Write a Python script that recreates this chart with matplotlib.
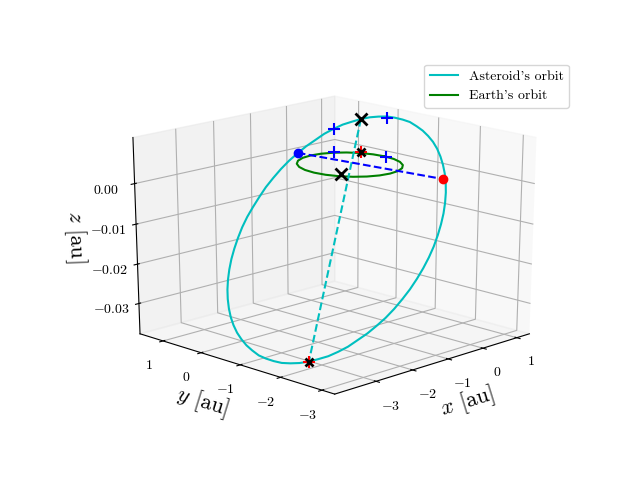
import matplotlib
matplotlib.use('Agg')
import matplotlib.pyplot as plt

plt.rcParams['font.family'] = ['cmr10', 'DejaVu Sans']
plt.rcParams['mathtext.fontset'] = 'cm'
plt.rcParams['axes.unicode_minus'] = False

# orbits, au
asteroid_x = [0.880, 0.782, 0.668, 0.538, 0.396, 0.240, 0.072, -0.106, -0.293, -0.488, -0.689, -0.896,
              -1.105, -1.315, -1.526, -1.735, -1.940, -2.140, -2.335, -2.522, -2.698, -2.865, -3.020, -3.161,
              -3.290, -3.402, -3.499, -3.578, -3.641, -3.686, -3.712, -3.720, -3.710, -3.682, -3.636, -3.572,
              -3.490, -3.392, -3.278, -3.148, -3.006, -2.850, -2.682, -2.504, -2.317, -2.122, -1.921, -1.714,
              -1.506, -1.295, -1.084, -0.875, -0.670, -0.470, -0.275, -0.088, 0.088, 0.255, 0.410, 0.551,
              0.679, 0.792, 0.889, 0.968, 1.031, 1.076, 1.102, 1.110, 1.100, 1.072, 1.026, 0.962, 0.880]
asteroid_y = [0.500, 0.644, 0.777, 0.898, 1.006, 1.100, 1.179, 1.243, 1.291, 1.324, 1.340, 1.340,
              1.323, 1.291, 1.242, 1.177, 1.097, 1.003, 0.895, 0.773, 0.641, 0.497, 0.342, 0.179,
              0.008, -0.168, -0.350, -0.536, -0.723, -0.911, -1.099, -1.284, -1.466, -1.642, -1.813, -1.976,
              -2.130, -2.274, -2.407, -2.528, -2.636, -2.730, -2.809, -2.873, -2.921, -2.954, -2.970, -2.970,
              -2.954, -2.921, -2.872, -2.807, -2.727, -2.633, -2.525, -2.403, -2.271, -2.127, -1.972, -1.809,
              -1.639, -1.462, -1.280, -1.094, -0.907, -0.719, -0.531, -0.346, -0.164, 0.012, 0.183, 0.346, 0.500]
asteroid_z = [0.0086, 0.0078, 0.0070, 0.0059, 0.0047, 0.0032, 0.0018, 0.0002, -0.0014, -0.0032, -0.0051, -0.0070,
              -0.0091, -0.0111, -0.0130, -0.0150, -0.0171, -0.0191, -0.0210, -0.0229, -0.0247, -0.0264, -0.0280, -0.0296,
              -0.0310, -0.0322, -0.0333, -0.0342, -0.0350, -0.0356, -0.0362, -0.0364, -0.0365, -0.0365, -0.0362, -0.0358,
              -0.0352, -0.0344, -0.0336, -0.0325, -0.0313, -0.0298, -0.0284, -0.0268, -0.0252, -0.0234, -0.0215, -0.0196,
              -0.0176, -0.0156, -0.0136, -0.0116, -0.0095, -0.0075, -0.0056, -0.0037, -0.0019, -0.0002, 0.0014, 0.0029,
              0.0043, 0.0056, 0.0067, 0.0076, 0.0084, 0.0090, 0.0096, 0.0098, 0.0099, 0.0099, 0.0096, 0.0092, 0.0086]

earth_x = [1, 0.966, 0.866, 0.707, 0.5, 0.259, 0, -0.259, -0.5, -0.707, -0.866, -0.966, -1,
           -0.966, -0.866, -0.707, -0.5, -0.259, 0, 0.259, 0.5, 0.707, 0.866, 0.966, 1]
earth_y = [0, 0.259, 0.5, 0.707, 0.866, 0.966, 1, 0.966, 0.866, 0.707, 0.5, 0.259, 0,
           -0.259, -0.5, -0.707, -0.866, -0.966, -1, -0.966, -0.866, -0.707, -0.5, -0.259, 0]
earth_z = [0] * 25

# apsides line (perihelion, aphelion)
apsides_x = [0.88, -3.49]
apsides_y = [0.50, -2.13]
apsides_z = [0.0086, -0.0352]

# nodes line (blue end, red end)
nodes_x = [-0.02, 0.40]
nodes_y = [1.315, -1.94]
nodes_z = [0, 0]

# points on the asteroid orbit and the same x, y on the ecliptic
plus_x = [0.54, 0.99, 0.54, 0.99]
plus_y = [0.89, -0.05, 0.89, -0.05]
plus_z = [0.0058, 0.0098, 0, 0]

# big black crosses: perihelion, earth opposite perihelion
cross_x = [0.88, -0.724]
cross_y = [0.50, -0.427]
cross_z = [0.0086, 0]

# smaller black crosses on red plus: perihelion on ecliptic, aphelion
mark_x = [0.93, -3.49]
mark_y = [0.55, -2.13]
mark_z = [0, -0.0352]

ticks_xy = [-3, -2, -1, 0, 1]
ticks_xy_labels = ['$-3$', '$-2$', '$-1$', '$0$', '$1$']
ticks_z = [-0.03, -0.02, -0.01, 0]
ticks_z_labels = ['$-0.03$', '$-0.02$', '$-0.01$', '$0.00$']

fig = plt.figure()
ax = fig.add_subplot(projection='3d')
# fill the whole axes rectangle instead of a square
ax.apply_aspect = lambda position=None: None
ax.set_box_aspect((1, 1, 1), zoom=0.95)
ax.view_init(elev=20, azim=-135)
ax.computed_zorder = False

ax.plot(asteroid_x, asteroid_y, asteroid_z, 'c', label="Asteroid's orbit", zorder=3)
ax.plot(earth_x, earth_y, earth_z, 'g', label="Earth's orbit", zorder=3)
ax.plot(apsides_x, apsides_y, apsides_z, 'c--', zorder=3)
ax.plot(nodes_x, nodes_y, nodes_z, 'b--', zorder=4)
ax.plot(nodes_x[:1], nodes_y[:1], nodes_z[:1], 'bo', zorder=5)
ax.plot(nodes_x[1:], nodes_y[1:], nodes_z[1:], 'ro', zorder=5)
ax.plot(plus_x, plus_y, plus_z, 'b+', ms=8, mew=1.5, zorder=5)
ax.plot(mark_x, mark_y, mark_z, 'r+', ms=8, mew=1.5, zorder=5)
ax.plot(mark_x, mark_y, mark_z, 'kx', ms=6, mew=2, zorder=6)
ax.plot(cross_x, cross_y, cross_z, 'kx', ms=8, mew=2, zorder=6)

ax.set_xlim(-4.1, 1.38)
ax.set_ylim(-3.3, 1.62)
ax.set_zlim(-0.0378, 0.0112)
ax.set_xticks(ticks_xy, ticks_xy_labels)
ax.set_yticks(ticks_xy, ticks_xy_labels)
ax.set_zticks(ticks_z, ticks_z_labels)
ax.set_xlabel('$x$ [au]', fontsize=16)
ax.set_ylabel('$y$ [au]', fontsize=16)
ax.set_zlabel('$z$ [au]', fontsize=16)
ax.legend()

fig.savefig('out.png')
